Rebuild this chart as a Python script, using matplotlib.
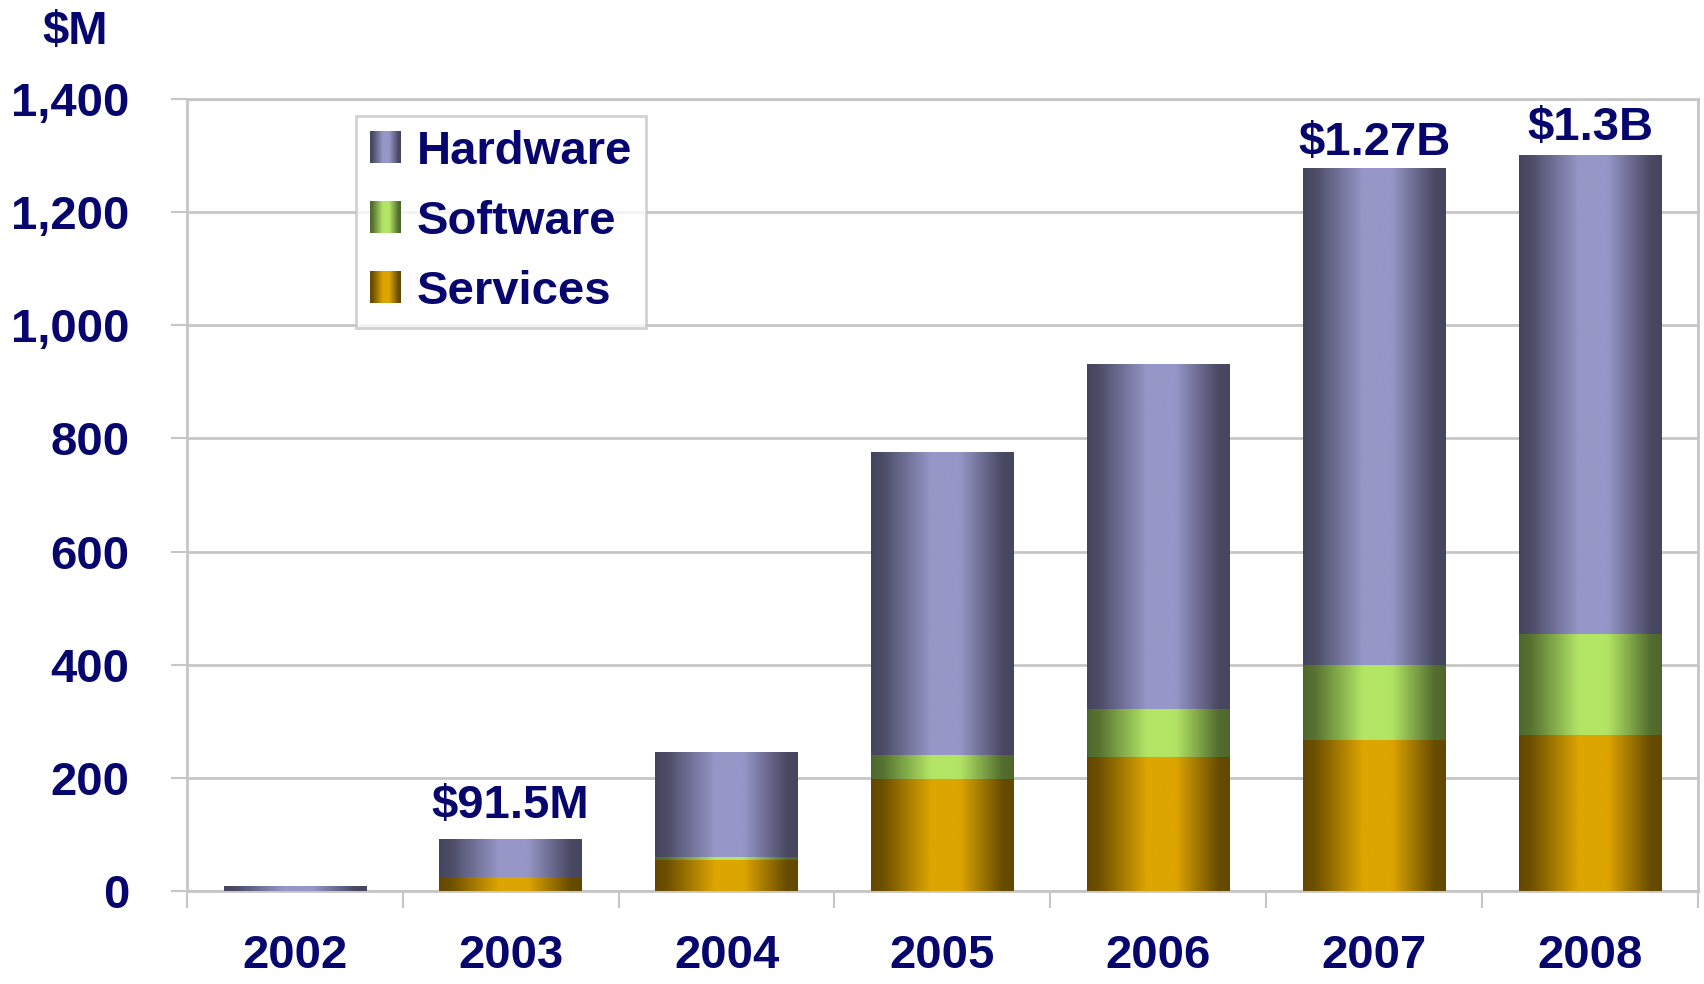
import numpy as np
import matplotlib
matplotlib.use('Agg')
import matplotlib.pyplot as plt
from matplotlib.colors import LinearSegmentedColormap
from matplotlib.patches import Rectangle
from matplotlib.image import BboxImage
from matplotlib.transforms import Bbox, TransformedBbox
from matplotlib.legend_handler import HandlerBase

plt.rcParams['font.family'] = ['Liberation Sans', 'DejaVu Sans']
plt.rcParams['font.weight'] = 'bold'

# data ($M)
years = ['2002', '2003', '2004', '2005', '2006', '2007', '2008']
services = [0, 25, 54, 198, 236, 267, 275]
software = [0, 0, 6, 42, 85, 133, 180]
hardware = [8, 66.5, 186, 536, 610, 877, 845]
series_names = ['Hardware', 'Software', 'Services']
total_labels = {1: '$91.5M', 5: '$1.27B', 6: '$1.3B'}
y_ticks = [0, 200, 400, 600, 800, 1000, 1200, 1400]

navy = '#06066e'
grid_grey = '#c6c6c6'
fs = 34

# dark edge -> light middle -> dark edge
shades = {
    'Hardware': ('#45455f', '#9696c8'),
    'Software': ('#4e682c', '#b3e565'),
    'Services': ('#634800', '#dda500'),
}
cmaps = {k: LinearSegmentedColormap.from_list(k, v) for k, v in shades.items()}

# horizontal shading profile across a bar
xs = np.linspace(0, 1, 256)
profile = np.interp(xs, [0, 0.08, 0.42, 0.62, 0.92, 1.0], [0, 0.08, 1, 1, 0.05, 0])
gradient = profile[np.newaxis, :]


class GradientHandler(HandlerBase):
    def __init__(self, cmap):
        super().__init__()
        self.cmap = cmap

    def create_artists(self, legend, orig_handle, xdescent, ydescent,
                       width, height, fontsize, trans):
        bb = TransformedBbox(Bbox.from_bounds(-xdescent, -ydescent, width, height), trans)
        img = BboxImage(bb, cmap=self.cmap, interpolation='bicubic')
        img.set_data(gradient)
        img.set_clim(0, 1)
        return [img]


fig = plt.figure(figsize=(17.04, 9.84), dpi=100)
ax = fig.add_axes([0.1097, 0.0945, 0.8867, 0.805])

x = np.arange(len(years))
width = 0.66
bottoms = np.zeros(len(years))
for name, vals in [('Services', services), ('Software', software), ('Hardware', hardware)]:
    bars = ax.bar(x, vals, width, bottom=bottoms, color=shades[name][1],
                  edgecolor='none', zorder=2)
    for bar in bars:
        if bar.get_height() <= 0:
            continue
        x0, y0 = bar.get_x(), bar.get_y()
        im = ax.imshow(gradient, cmap=cmaps[name], vmin=0, vmax=1,
                       extent=[x0, x0 + bar.get_width(), y0, y0 + bar.get_height()],
                       aspect='auto', interpolation='bicubic', zorder=3)
        im.set_clip_path(bar)
    bottoms += np.array(vals)

totals = np.array(services) + np.array(software) + np.array(hardware)
offsets = {1: 15, 5: 10, 6: 11}
for i, txt in total_labels.items():
    ax.annotate(txt, (x[i], totals[i]), xytext=(0, offsets[i]), textcoords='offset points',
                ha='center', va='baseline', fontsize=fs, color=navy, fontweight='bold',
                zorder=5)

ax.set_xlim(-0.5, len(years) - 0.5)
ax.set_ylim(0, 1400)
ax.set_yticks(y_ticks)
ax.set_yticklabels([f'{v:,}' for v in y_ticks])
ax.set_xticks(x)
ax.set_xticklabels(years)
ax.set_xticks(np.arange(-0.5, len(years)), minor=True)

ax.yaxis.grid(True, color=grid_grey, linewidth=2)
ax.set_axisbelow(True)
for s in ax.spines.values():
    s.set_color(grid_grey)
    s.set_linewidth(2)

ax.tick_params(axis='y', length=11.5, width=1.5, color=grid_grey, pad=30,
               labelsize=fs, labelcolor=navy)
ax.tick_params(axis='x', which='major', length=0, pad=31, labelsize=fs, labelcolor=navy)
ax.tick_params(axis='x', which='minor', length=12, width=1.5, color=grid_grey)

fig.text(0.044, 0.967, '$M', fontsize=fs, color=navy, fontweight='bold',
         ha='center', va='center')

handles = [Rectangle((0, 0), 1, 1) for _ in series_names]
leg = ax.legend(handles, series_names, loc='upper left', bbox_to_anchor=(0.112, 0.979),
                borderaxespad=0, fontsize=fs, frameon=True, fancybox=False,
                edgecolor=grid_grey, handlelength=0.64, handleheight=0.66,
                handletextpad=0.34, labelspacing=0.55, borderpad=0.3,
                handler_map={h: GradientHandler(cmaps[n]) for h, n in zip(handles, series_names)})
leg.get_frame().set_linewidth(2)
for t in leg.get_texts():
    t.set_color(navy)
leg.set_zorder(6)

fig.savefig('out.png', dpi=100)
